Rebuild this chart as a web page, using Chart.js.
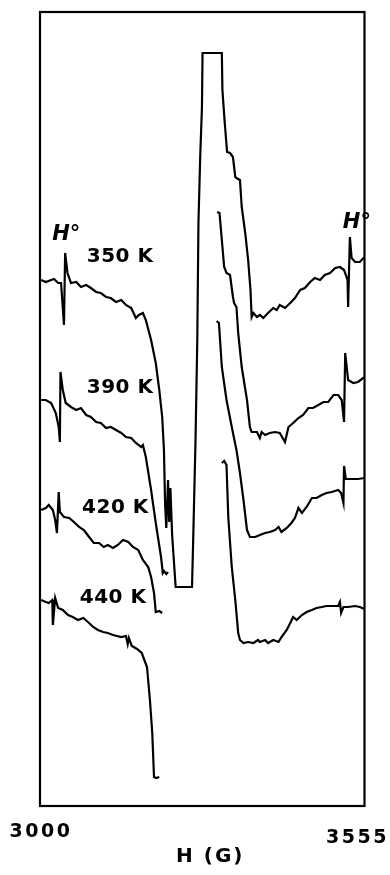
<!DOCTYPE html>
<html>
<head>
<meta charset="utf-8">
<script src="https://cdn.jsdelivr.net/npm/chart.js@4/dist/chart.umd.min.js"></script>
<style>
  html, body { margin: 0; padding: 0; background: #fff; }
  #wrap { width: 390px; height: 875px; position: relative; }
</style>
</head>
<body>
<div id="wrap"><canvas id="c" width="390" height="875"></canvas></div>
<script>
// Magnetic field H (G) and derivative signal (arbitrary units, stacked traces)
const field350 = [3002,3010,3019,3024,3031,3036,3041,3043,3047,3053,3062,3070,3079,3087,3096,3104,3113,3121,3130,3139,3147,3156,3164,3169,3176,3181,3190,3198,3204,3209,3212,3214,3216,3219,3221,3223,3226,3232,3260,3262,3264,3266,3269,3271,3274,3277,3278,3311,3312,3316,3320,3325,3330,3334,3336,3342,3345,3351,3356,3360,3362,3365,3371,3376,3382,3390,3399,3405,3410,3419,3428,3436,3445,3453,3462,3470,3479,3487,3496,3505,3513,3520,3526,3527,3530,3533,3539,3547,3555];
const sig350   = [526,524,526,527,523,523,481,553,533,523,524,519,521,518,514,513,509,508,504,506,501,498,488,491,493,486,466,443,416,389,356,301,278,326,284,318,271,219,219,266,316,366,466,583,649,699,753,753,716,683,654,653,649,629,628,626,599,573,546,516,489,493,489,491,488,493,498,496,501,498,503,508,516,518,524,528,526,531,533,538,539,536,526,499,569,548,544,544,549];

const field390 = [3002,3010,3019,3027,3032,3034,3035,3039,3044,3053,3062,3070,3079,3087,3096,3104,3113,3121,3130,3139,3147,3156,3164,3173,3176,3181,3190,3198,3207,3210,3212,3216,3219,3260,3303,3307,3311,3315,3319,3325,3330,3332,3336,3339,3345,3354,3359,3362,3371,3376,3379,3385,3393,3402,3410,3419,3425,3433,3442,3450,3459,3467,3476,3485,3493,3502,3510,3516,3520,3522,3527,3536,3544,3553,3555];
const sig390   = [406,406,403,393,379,364,434,416,403,399,396,398,391,389,384,383,378,379,376,373,369,368,363,359,361,349,316,283,249,233,235,232,234,null,594,593,566,539,533,531,509,503,499,473,439,406,379,374,374,368,374,371,373,374,373,364,379,383,388,391,398,398,401,404,404,411,411,406,384,453,426,423,424,428,429];

const field420 = [3002,3010,3015,3022,3026,3029,3032,3034,3041,3050,3058,3067,3075,3084,3092,3101,3109,3116,3125,3133,3142,3151,3159,3168,3176,3185,3190,3195,3198,3204,3209,3260,3302,3306,3311,3319,3328,3336,3342,3348,3354,3359,3368,3376,3385,3393,3402,3408,3413,3422,3430,3436,3442,3448,3456,3465,3473,3482,3490,3499,3510,3515,3519,3520,3523,3533,3544,3555];
const sig420   = [296,298,301,296,286,273,314,294,289,288,284,279,276,269,263,263,259,261,258,261,266,264,259,256,246,239,229,213,194,195,193,null,485,483,439,406,379,356,333,306,276,269,269,271,273,274,276,279,274,278,283,288,298,293,299,308,308,311,313,314,316,313,303,340,327,327,327,328];

const field440 = [3002,3010,3015,3021,3022,3026,3031,3039,3048,3056,3065,3074,3082,3091,3099,3108,3116,3125,3139,3147,3150,3152,3157,3166,3174,3183,3188,3192,3195,3199,3204,3260,3311,3315,3319,3322,3328,3334,3339,3342,3348,3356,3365,3373,3376,3385,3390,3399,3408,3413,3422,3428,3433,3439,3448,3456,3465,3473,3482,3490,3502,3510,3513,3515,3519,3527,3539,3547,3555];
const sig440   = [206,204,203,206,181,208,198,196,191,189,186,188,184,179,176,174,173,171,169,170,162,168,160,157,153,139,106,73,29,28,29,null,343,345,341,289,239,206,173,166,163,164,163,166,164,166,163,166,164,169,176,183,189,186,191,194,196,198,199,200,200,200,204,193,199,199,200,199,197];

const tickValues = [3000, 3555];
const tickLabels = ['3000', '3555'];
const axisTitle = 'H (G)';
const tempLabels = ['350 K', '390 K', '420 K', '440 K'];
const markerLabel = 'H°';

function pts(xs, ys) { return xs.map((x, i) => ({ x: x, y: ys[i] })); }

// label anchors (data coordinates) kept apart from the data arrays
const tempAnchors = [[3080, 544], [3080, 413], [3072, 293], [3068, 203]];
const markerAnchors = [[3021, 566], [3518, 578]];

const annot = {
  id: 'annot',
  afterDraw(chart) {
    const ctx = chart.ctx, xs = chart.scales.x, ys = chart.scales.y, a = chart.chartArea;
    ctx.save();
    // frame
    ctx.strokeStyle = '#000';
    ctx.lineWidth = 2.2;
    ctx.strokeRect(a.left, a.top, a.right - a.left, a.bottom - a.top);
    ctx.fillStyle = '#000';
    ctx.textBaseline = 'alphabetic';
    ctx.textAlign = 'left';
    // temperature labels
    ctx.font = 'bold 20px "DejaVu Sans"';
    try { ctx.letterSpacing = '0.5px'; } catch (e) {}
    tempLabels.forEach((t, i) => {
      ctx.fillText(t, xs.getPixelForValue(tempAnchors[i][0]), ys.getPixelForValue(tempAnchors[i][1]));
    });
    // H° markers
    ctx.font = 'italic bold 21px "DejaVu Sans"';
    try { ctx.letterSpacing = '0px'; } catch (e) {}
    markerAnchors.forEach(m => {
      ctx.fillText(markerLabel, xs.getPixelForValue(m[0]), ys.getPixelForValue(m[1]));
    });
    // x tick labels
    ctx.font = 'bold 19px "DejaVu Sans"';
    try { ctx.letterSpacing = '2.5px'; } catch (e) {}
    const tickDx = [1, -7], tickDy = [31, 37];
    tickValues.forEach((v, i) => {
      const w = ctx.measureText(tickLabels[i]).width;
      ctx.fillText(tickLabels[i], xs.getPixelForValue(v) + tickDx[i] - w / 2, a.bottom + tickDy[i]);
    });
    // axis title
    ctx.font = 'bold 20px "DejaVu Sans"';
    try { ctx.letterSpacing = '2px'; } catch (e) {}
    const tw = ctx.measureText(axisTitle).width;
    ctx.fillText(axisTitle, (a.left + a.right) / 2 + 8 - tw / 2, a.bottom + 56);
    ctx.restore();
  }
};

const ds = (xs, ys) => ({
  data: pts(xs, ys),
  borderColor: '#000',
  borderWidth: 2.2,
  pointRadius: 0,
  tension: 0,
  spanGaps: false,
  fill: false
});

new Chart(document.getElementById('c'), {
  type: 'line',
  data: {
    datasets: [
      ds(field350, sig350),
      ds(field390, sig390),
      ds(field420, sig420),
      ds(field440, sig440)
    ]
  },
  options: {
    responsive: false,
    animation: false,
    parsing: true,
    layout: { padding: { left: 40, right: 25.5, top: 12, bottom: 69 } },
    plugins: { legend: { display: false }, tooltip: { enabled: false } },
    scales: {
      x: { type: 'linear', min: 3000, max: 3555, display: false },
      y: { type: 'linear', min: 0, max: 794, display: false }
    }
  },
  plugins: [annot]
});
</script>
</body>
</html>
